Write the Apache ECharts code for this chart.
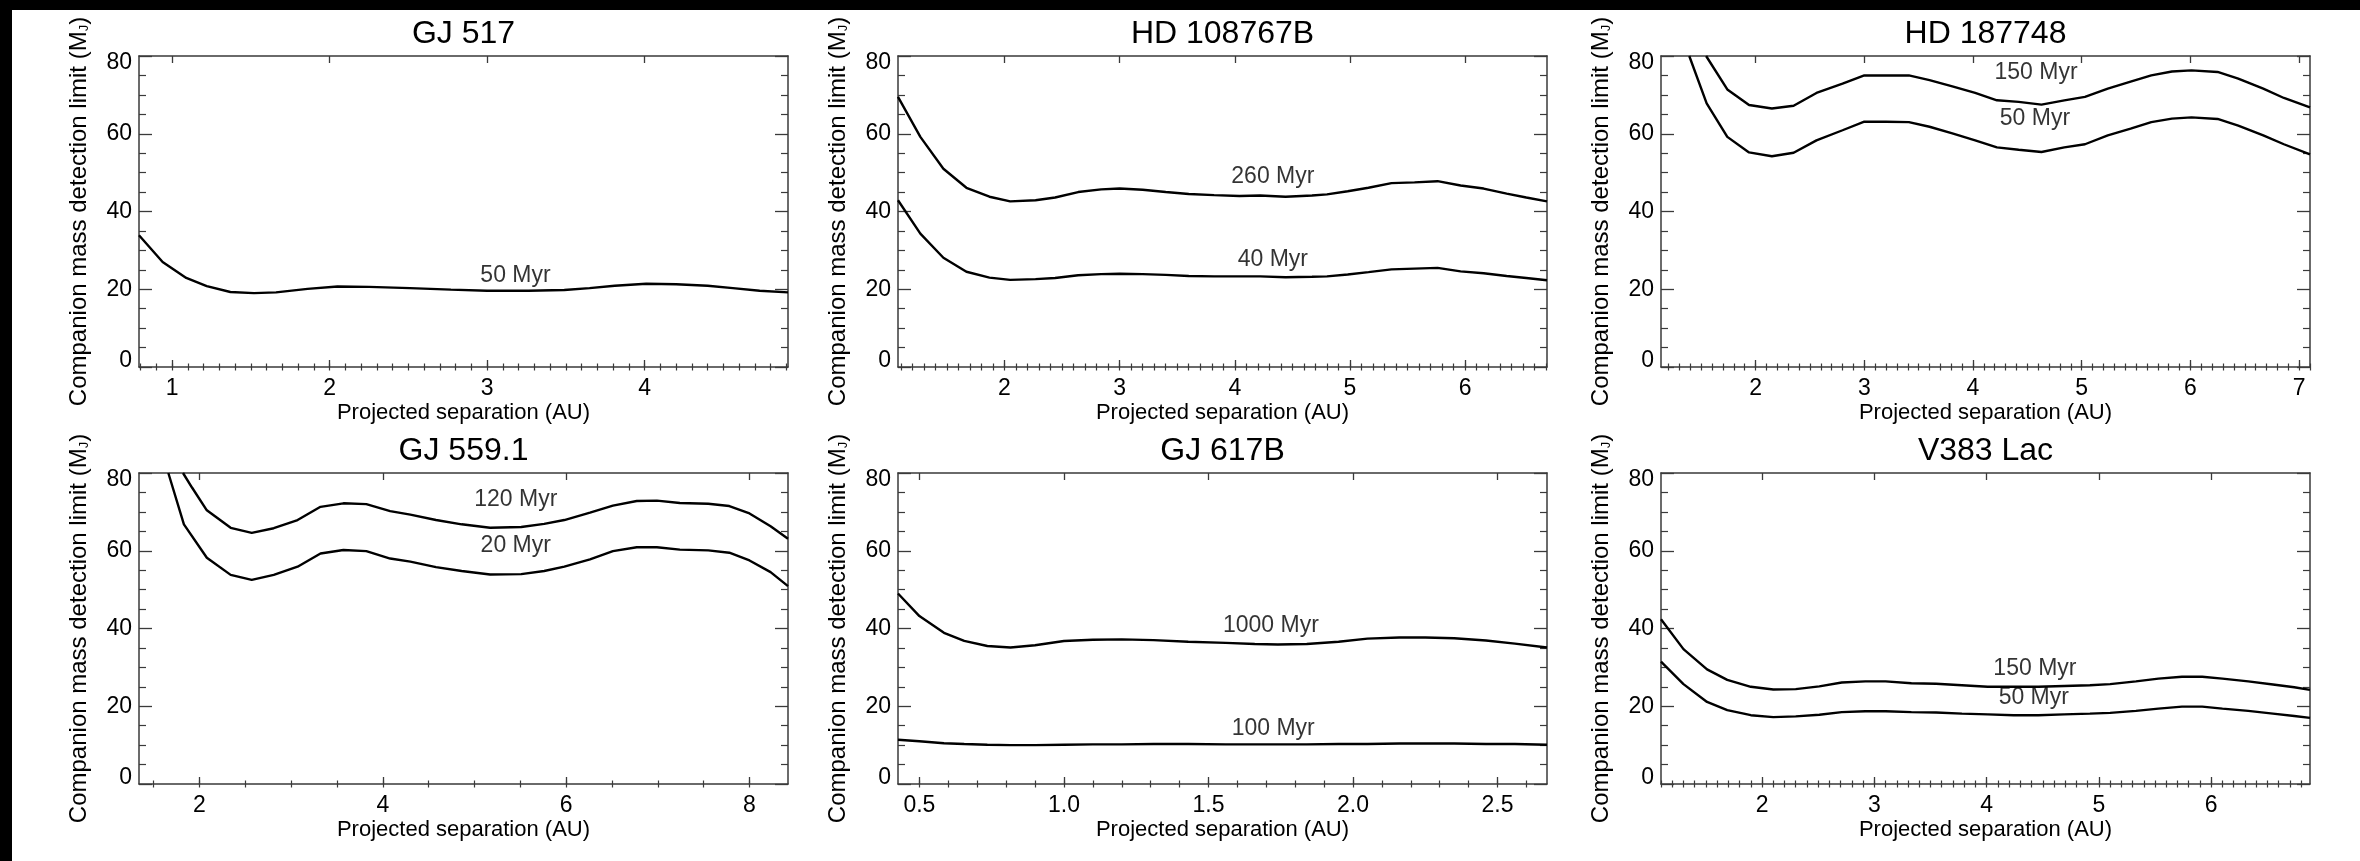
<!DOCTYPE html>
<html><head><meta charset="utf-8">
<script src="https://cdn.jsdelivr.net/npm/echarts@6/dist/echarts.min.js"></script>
<style>
html,body{margin:0;padding:0;background:#000;width:2360px;height:861px;overflow:hidden}
#bg{position:absolute;left:12px;top:10px;width:2348px;height:851px;background:#fff}
#chart{position:absolute;left:0;top:0;width:2360px;height:861px}
</style></head><body><div id="bg"></div><div id="chart"></div>
<script>
// ---------- data ----------
const panelTitles = ['GJ 517', 'HD 108767B', 'HD 187748', 'GJ 559.1', 'GJ 617B', 'V383 Lac'];
const xRanges = [[0.79, 4.91], [1.076, 6.71], [1.13, 7.10], [1.34, 8.42], [0.426, 2.671], [1.10, 6.88]];
const xMajorTicks = [[1, 2, 3, 4], [2, 3, 4, 5, 6], [2, 3, 4, 5, 6, 7], [2, 4, 6, 8], [0.5, 1.0, 1.5, 2.0, 2.5], [2, 3, 4, 5, 6]];
const xMinorStep = [0.1, 0.1, 0.1, 0.5, 0.1, 0.1];
const xLabelDecimals = [0, 0, 0, 0, 1, 0];
const yTickLabels = [0, 20, 40, 60, 80];

// GJ 517
const gj517_sep = [0.79, 0.94, 1.09, 1.22, 1.37, 1.52, 1.66, 1.86, 2.05, 2.25, 2.51, 2.77, 3.00, 3.26, 3.49, 3.65, 3.81, 4.01, 4.20, 4.40, 4.56, 4.73, 4.91];
const gj517_50 = [33.9, 27.0, 22.9, 20.8, 19.3, 19.0, 19.2, 20.1, 20.7, 20.6, 20.3, 19.9, 19.6, 19.6, 19.8, 20.3, 20.9, 21.4, 21.3, 20.9, 20.3, 19.6, 19.2];

// HD 108767B
const hd108_sep = [1.076, 1.27, 1.47, 1.67, 1.87, 2.05, 2.27, 2.44, 2.64, 2.84, 3.0, 3.2, 3.4, 3.6, 3.82, 4.04, 4.22, 4.44, 4.67, 4.8, 4.98, 5.16, 5.36, 5.56, 5.76, 5.96, 6.16, 6.36, 6.53, 6.71];
const hd108_260 = [69.5, 59.2, 51.0, 46.1, 43.8, 42.6, 42.9, 43.6, 45.0, 45.7, 45.9, 45.6, 45.0, 44.5, 44.2, 44.0, 44.1, 43.8, 44.1, 44.4, 45.2, 46.1, 47.3, 47.5, 47.8, 46.7, 45.9, 44.6, 43.6, 42.6];
const hd108_40 = [42.9, 34.3, 28.1, 24.5, 23.0, 22.4, 22.6, 22.9, 23.6, 23.9, 24.0, 23.9, 23.7, 23.4, 23.3, 23.3, 23.3, 23.1, 23.2, 23.3, 23.8, 24.4, 25.1, 25.3, 25.5, 24.6, 24.1, 23.4, 22.9, 22.3];

// HD 187748
const hd187_150_sep = [1.545, 1.74, 1.94, 2.15, 2.35, 2.56, 2.80, 3.0, 3.2, 3.41, 3.60, 3.81, 4.02, 4.22, 4.42, 4.63, 4.84, 5.03, 5.24, 5.45, 5.64, 5.83, 6.01, 6.25, 6.44, 6.67, 6.86, 7.10];
const hd187_150 = [80, 71.4, 67.4, 66.5, 67.2, 70.5, 72.9, 75.0, 75.0, 75.0, 73.8, 72.2, 70.5, 68.6, 68.2, 67.5, 68.6, 69.5, 71.6, 73.4, 75.0, 76.0, 76.3, 75.9, 74.2, 71.6, 69.2, 66.8];
const hd187_50_sep = [1.39, 1.55, 1.74, 1.94, 2.15, 2.35, 2.56, 2.80, 3.0, 3.2, 3.41, 3.60, 3.81, 4.02, 4.22, 4.42, 4.63, 4.84, 5.03, 5.24, 5.45, 5.64, 5.83, 6.01, 6.25, 6.44, 6.67, 6.86, 7.10];
const hd187_50 = [80, 67.8, 59.2, 55.2, 54.2, 55.1, 58.3, 60.9, 63.1, 63.1, 63.0, 61.8, 60.1, 58.3, 56.5, 55.9, 55.3, 56.5, 57.3, 59.6, 61.3, 63.0, 63.9, 64.2, 63.8, 62.1, 59.6, 57.3, 54.7];

// GJ 559.1
const gj559_120_sep = [1.82, 1.92, 2.08, 2.34, 2.57, 2.81, 3.07, 3.32, 3.57, 3.82, 4.08, 4.30, 4.58, 4.86, 5.17, 5.51, 5.76, 5.98, 6.26, 6.51, 6.77, 6.99, 7.24, 7.55, 7.78, 8.0, 8.23, 8.42];
const gj559_120 = [80, 76.2, 70.4, 65.9, 64.6, 65.8, 67.9, 71.3, 72.2, 72.0, 70.2, 69.3, 67.9, 66.8, 65.9, 66.1, 66.9, 67.9, 69.8, 71.6, 72.8, 72.9, 72.3, 72.1, 71.5, 69.6, 66.3, 63.1];
const gj559_20_sep = [1.66, 1.83, 2.08, 2.34, 2.57, 2.81, 3.07, 3.32, 3.57, 3.82, 4.08, 4.30, 4.58, 4.86, 5.17, 5.51, 5.76, 5.98, 6.26, 6.51, 6.77, 6.99, 7.24, 7.55, 7.78, 8.0, 8.23, 8.42];
const gj559_20 = [80, 66.8, 58.2, 53.8, 52.5, 53.8, 55.9, 59.3, 60.2, 59.9, 58.0, 57.2, 55.8, 54.8, 53.9, 54.0, 54.8, 55.9, 57.8, 59.9, 60.9, 60.9, 60.3, 60.1, 59.5, 57.5, 54.5, 50.9];

// GJ 617B
const gj617_sep = [0.426, 0.5, 0.585, 0.655, 0.735, 0.815, 0.90, 1.0, 1.10, 1.20, 1.31, 1.43, 1.56, 1.66, 1.74, 1.84, 1.95, 2.05, 2.16, 2.25, 2.35, 2.46, 2.56, 2.671];
const gj617_1000 = [49.0, 43.2, 38.9, 36.8, 35.5, 35.1, 35.7, 36.8, 37.1, 37.2, 37.0, 36.6, 36.3, 36.0, 35.9, 36.0, 36.6, 37.4, 37.7, 37.7, 37.5, 36.9, 36.1, 35.1];
const gj617_100 = [11.4, 11.0, 10.5, 10.3, 10.1, 10.0, 10.0, 10.1, 10.2, 10.2, 10.3, 10.3, 10.2, 10.2, 10.2, 10.2, 10.3, 10.3, 10.4, 10.4, 10.4, 10.3, 10.3, 10.1];

// V383 Lac
const v383_sep = [1.10, 1.30, 1.51, 1.69, 1.90, 2.10, 2.30, 2.51, 2.71, 2.92, 3.10, 3.33, 3.55, 3.78, 4.01, 4.24, 4.46, 4.69, 4.92, 5.10, 5.33, 5.53, 5.74, 5.92, 6.10, 6.33, 6.55, 6.74, 6.88];
const v383_150 = [42.4, 34.7, 29.5, 26.8, 25.0, 24.3, 24.4, 25.1, 26.1, 26.4, 26.4, 25.9, 25.8, 25.4, 25.0, 25.0, 25.0, 25.2, 25.4, 25.7, 26.4, 27.1, 27.6, 27.6, 27.1, 26.4, 25.6, 24.9, 24.2];
const v383_50 = [31.5, 25.7, 21.1, 19.0, 17.7, 17.2, 17.4, 17.8, 18.5, 18.7, 18.7, 18.5, 18.4, 18.1, 17.9, 17.7, 17.7, 17.9, 18.1, 18.3, 18.8, 19.4, 19.9, 19.9, 19.4, 18.8, 18.1, 17.5, 17.0];

// curve age labels: [panel, text, x, y]
const ageLabels = [
  [0, '50 Myr', 3.18, 23.6],
  [1, '260 Myr', 4.33, 48.9], [1, '40 Myr', 4.33, 27.5],
  [2, '150 Myr', 4.58, 75.7], [2, '50 Myr', 4.57, 63.9],
  [3, '120 Myr', 5.45, 73.2], [3, '20 Myr', 5.45, 61.2],
  [4, '1000 Myr', 1.716, 40.8], [4, '100 Myr', 1.724, 14.3],
  [5, '150 Myr', 4.43, 29.7], [5, '50 Myr', 4.42, 22.2]
];

const curves = [
  [0, gj517_sep, gj517_50],
  [1, hd108_sep, hd108_260], [1, hd108_sep, hd108_40],
  [2, hd187_150_sep, hd187_150], [2, hd187_50_sep, hd187_50],
  [3, gj559_120_sep, gj559_120], [3, gj559_20_sep, gj559_20],
  [4, gj617_sep, gj617_1000], [4, gj617_sep, gj617_100],
  [5, v383_sep, v383_150], [5, v383_sep, v383_50]
];

// ---------- layout ----------
const colLeft = [139, 898, 1661];
const rowTop = [56, 473];
const gW = 649, gH = 311;
const FONT = 'Liberation Sans, Arial, Helvetica, sans-serif';
const AXC = '#3a3a3a';

function minorTicks(i) {
  const [a, b] = xRanges[i];
  const s = xMinorStep[i];
  const out = [];
  for (let k = Math.ceil(a / s - 1e-9); k * s <= b + 1e-9; k++) out.push(+(k * s).toFixed(4));
  return out;
}

const yMin = yTickLabels[0], yMax = yTickLabels[yTickLabels.length - 1];
const grids = [], xAxes = [], yAxes = [], series = [], titles = [];
for (let i = 0; i < 6; i++) {
  const r = Math.floor(i / 3), c = i % 3;
  grids.push({left: colLeft[c], top: rowTop[r], width: gW, height: gH, containLabel: false});
  titles.push({
    text: panelTitles[i], left: colLeft[c] + gW / 2, top: rowTop[r] - 22,
    textAlign: 'center', textVerticalAlign: 'middle', padding: 0,
    textStyle: {fontFamily: FONT, fontSize: 32, fontWeight: 'normal', color: '#000'}
  });
  const [mn, mx] = xRanges[i];
  const base = {type: 'value', gridIndex: i, min: mn, max: mx, splitLine: {show: false}};
  const line = {show: true, onZero: false, lineStyle: {color: AXC, width: 1.5}};
  // bottom major (index 4i)
  xAxes.push(Object.assign({}, base, {
    position: 'bottom', axisLine: line,
    axisTick: {show: true, inside: true, length: 7, customValues: xMajorTicks[i], lineStyle: {color: AXC, width: 1.3}},
    axisLabel: {show: true, customValues: xMajorTicks[i], margin: 10, fontFamily: FONT, fontSize: 23, color: '#000',
      formatter: v => Number(v).toFixed(xLabelDecimals[i])},
    name: 'Projected separation (AU)', nameLocation: 'middle', nameGap: 35,
    nameTextStyle: {fontFamily: FONT, fontSize: 22, color: '#000'}
  }));
  // bottom minor
  xAxes.push(Object.assign({}, base, {
    position: 'bottom', axisLine: {show: false},
    axisTick: {show: true, inside: true, length: 3.5, customValues: minorTicks(i), lineStyle: {color: AXC, width: 1.2}},
    axisLabel: {show: false}
  }));
  // top major
  xAxes.push(Object.assign({}, base, {
    position: 'top', axisLine: line,
    axisTick: {show: true, inside: true, length: 7, customValues: xMajorTicks[i], lineStyle: {color: AXC, width: 1.3}},
    axisLabel: {show: false}
  }));
  // top minor
  xAxes.push(Object.assign({}, base, {
    position: 'top', axisLine: {show: false},
    axisTick: {show: true, inside: true, length: 3.5, customValues: minorTicks(i), lineStyle: {color: AXC, width: 1.2}},
    axisLabel: {show: false}
  }));
  const ybase = {type: 'value', gridIndex: i, min: yMin, max: yMax,
    interval: yTickLabels[1] - yTickLabels[0], splitLine: {show: false}, axisLine: line,
    axisTick: {show: true, inside: true, length: 13, lineStyle: {color: AXC, width: 1.3}},
    minorTick: {show: true, splitNumber: 4, length: 7, lineStyle: {color: AXC, width: 1.2}}};
  yAxes.push(Object.assign({}, ybase, {
    position: 'left',
    axisLabel: {show: true, margin: 7, fontFamily: FONT, fontSize: 23, color: '#000',
      formatter: v => v === yMax ? '{hi|' + v + '}' : (v === yMin ? '{lo|' + v + '}' : String(v)),
      rich: {
        hi: {fontFamily: FONT, fontSize: 23, color: '#000', padding: [13, 0, 0, 0]},
        lo: {fontFamily: FONT, fontSize: 23, color: '#000', padding: [0, 0, 13, 0]}
      }},
    name: 'Companion mass detection limit (M{sub|J})', nameLocation: 'middle', nameGap: 48,
    nameTextStyle: {fontFamily: FONT, fontSize: 24, color: '#000',
      rich: {sub: {fontFamily: FONT, fontSize: 13, color: '#000', verticalAlign: 'bottom', padding: [11, 0, 0, 0]}}}
  }));
  yAxes.push(Object.assign({}, ybase, {position: 'right', axisLabel: {show: false}}));
}

curves.forEach(([p, xs, ys]) => {
  series.push({
    type: 'line', xAxisIndex: 4 * p, yAxisIndex: 2 * p, showSymbol: false, symbol: 'none',
    smooth: false, silent: true, animation: false,
    lineStyle: {color: '#000', width: 2.4},
    data: xs.map((x, k) => [x, ys[k]])
  });
});

ageLabels.forEach(([p, t, x, y]) => {
  series.push({
    type: 'scatter', xAxisIndex: 4 * p, yAxisIndex: 2 * p, symbolSize: 0, silent: true, animation: false,
    data: [{name: t, value: [x, y]}],
    label: {show: true, position: 'inside', formatter: '{b}', fontFamily: FONT, fontSize: 23, color: '#000'}
  });
});

const chart = echarts.init(document.getElementById('chart'), null, {renderer: 'canvas'});
chart.setOption({
  backgroundColor: 'transparent',
  animation: false,
  title: titles,
  grid: grids,
  xAxis: xAxes,
  yAxis: yAxes,
  series: series
});
</script></body></html>
